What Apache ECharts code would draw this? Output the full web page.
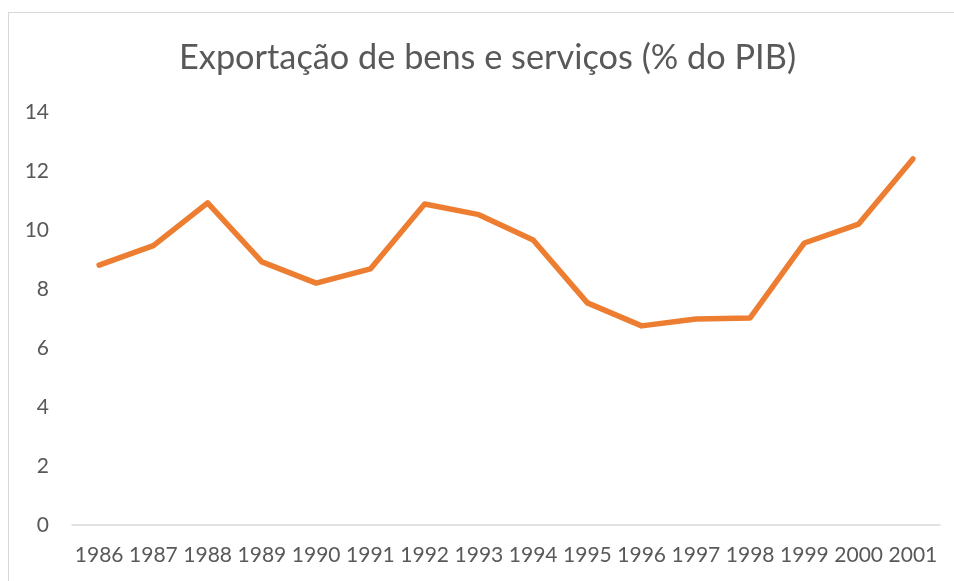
<!DOCTYPE html>
<html><head><meta charset="utf-8">
<script src="https://cdn.jsdelivr.net/npm/echarts@6/dist/echarts.min.js"></script>
<style>html,body{margin:0;padding:0;background:#fff;overflow:hidden}
#frame{position:absolute;left:8px;top:12px;width:980px;height:620px;border:1px solid #d9d9d9;box-sizing:border-box}
#c{position:absolute;left:0;top:0;width:954px;height:581px}</style>
</head><body>
<div id="frame"></div>
<div id="c"></div>
<script>
const titleText = 'Exportação de bens e serviços (% do PIB)';
const years = ['1986','1987','1988','1989','1990','1991','1992','1993','1994','1995','1996','1997','1998','1999','2000','2001'];
const exportsPct = [8.81, 9.47, 10.92, 8.92, 8.2, 8.68, 10.88, 10.52, 9.66, 7.53, 6.75, 6.98, 7.02, 9.56, 10.2, 12.41];
const yTicks = {min: 0, max: 14, interval: 2};
const font = 'Lato, "Open Sans", sans-serif';
const chart = echarts.init(document.getElementById('c'), null, {renderer: 'canvas'});
chart.setOption({
  animation: false,
  backgroundColor: 'transparent',
  title: {text: titleText, left: 174, top: 36,
    textStyle: {fontFamily: font, fontSize: 34.3, fontWeight: 'normal', color: '#595959'}},
  grid: {left: 72, right: 14, top: 112, bottom: 56, containLabel: false},
  xAxis: {type: 'category', data: years, boundaryGap: true,
    axisLine: {lineStyle: {color: '#d9d9d9', width: 1.5}}, axisTick: {show: false},
    axisLabel: {color: '#595959', fontFamily: font, fontSize: 21, margin: 20, interval: 0}},
  yAxis: {type: 'value', min: yTicks.min, max: yTicks.max, interval: yTicks.interval,
    axisLine: {show: false}, axisTick: {show: false}, splitLine: {show: false},
    axisLabel: {color: '#595959', fontFamily: font, fontSize: 21, margin: 23}},
  series: [{type: 'line', data: exportsPct, symbol: 'none',
    lineStyle: {color: '#ED7D31', width: 5.5, cap: 'round', join: 'round'}}]
});
</script>
</body></html>
